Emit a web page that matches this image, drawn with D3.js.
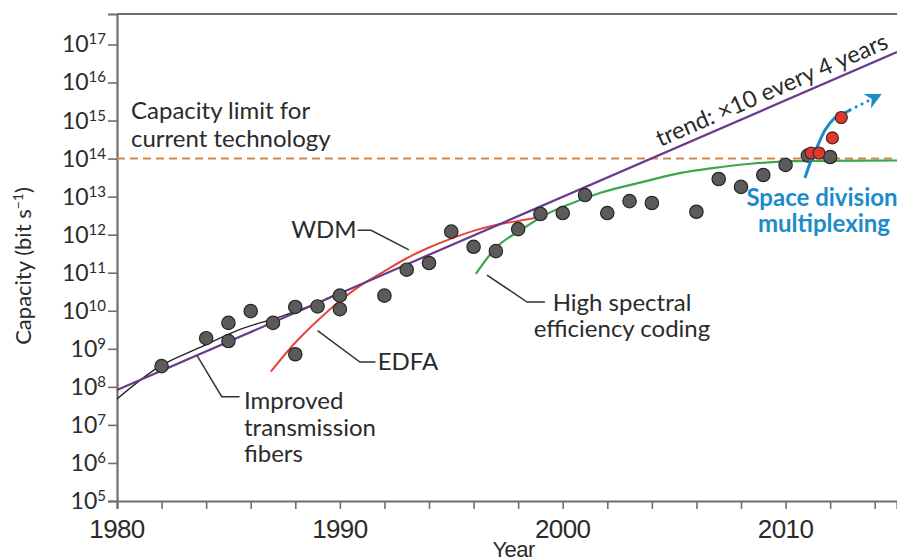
<!DOCTYPE html>
<html>
<head>
<meta charset="utf-8">
<script src="https://cdn.jsdelivr.net/npm/d3@7"></script>
<style>
    body { margin: 0; background: #fff; }
    text { font-family: Lato, "Open Sans", sans-serif; fill: #2b2b2b; }
</style>
</head>
<body>
<div id="chart"></div>
<script>
// measured system capacity points (year, bit/s)
var pointYears = [1982, 1984, 1985, 1985, 1986, 1987, 1988, 1988, 1989, 1990, 1990, 1992, 1993, 1994, 1995, 1996, 1997, 1998, 1999, 2000, 2001, 2002, 2003, 2004, 2006, 2007, 2008, 2009, 2010, 2011, 2012];
var pointValues = [3.5e8, 1.9e9, 4.8e9, 1.6e9, 9.8e9, 4.8e9, 1.26e10, 7.2e8, 1.3e10, 2.5e10, 1.1e10, 2.5e10, 1.2e11, 1.8e11, 1.2e12, 4.8e11, 3.7e11, 1.4e12, 3.5e12, 3.7e12, 1.1e13, 3.7e12, 7.6e12, 6.8e12, 4e12, 2.9e13, 1.8e13, 3.7e13, 6.8e13, 1.2e14, 1.1e14];

// space division multiplexing results (red)
var sdmYears = [2011.15, 2011.5, 2012.1, 2012.5];
var sdmValues = [1.4e14, 1.4e14, 3.5e14, 1.2e15];

// curves
var trendYears = [1980, 2015];
var trendValues = [8.3e7, 6.3e16];

var fiberYears = [1980, 1981.9, 1983.7, 1985.5, 1987.3, 1989, 1990, 1990.4];
var fiberValues = [4.8e7, 3.4e8, 1.07e9, 3.2e9, 6.9e9, 1.6e10, 3e10, 3.6e10];

var edfaYears = [1986.9, 1987.9, 1989.1, 1990, 1990.9, 1992, 1993, 1994, 1995, 1996, 1997, 1998, 1999.2];
var edfaValues = [2.5e8, 1.26e9, 6.3e9, 1.8e10, 4.5e10, 1.1e11, 2.4e11, 4.6e11, 7.9e11, 1.26e12, 1.8e12, 2.3e12, 3e12];

var codingYears = [1996.1, 1997, 1998.1, 1999.3, 2000.3, 2001.7, 2003.8, 2005.3, 2006.7, 2008.3, 2009.8, 2011.2, 2015];
var codingValues = [9.3e10, 4.5e11, 1.3e12, 3.5e12, 6.3e12, 1.26e13, 2.6e13, 4.2e13, 5.6e13, 7.2e13, 8.3e13, 8.7e13, 8.9e13];

var sdmCurveYears = [2010.87, 2011.1, 2011.41, 2011.77, 2012.22, 2012.76, 2012.9];
var sdmCurveValues = [3.1e13, 7.6e13, 2e14, 5.6e14, 1.2e15, 1.7e15, 1.9e15];
var sdmArrowYears = [2012.9, 2013.8];
var sdmArrowValues = [1.9e15, 3.5e15];

var limitValue = 1e14;

var xTicks = [1980, 1990, 2000, 2010];
var yExponents = [5, 6, 7, 8, 9, 10, 11, 12, 13, 14, 15, 16, 17];

(function () {
    var width = 897, height = 560;
    var left = 117, right = 897, top = 14, bottom = 501;

    var svg = d3.select("#chart").append("svg")
        .attr("width", width)
        .attr("height", height);

    var x = d3.scaleLinear().domain([1980, 2015]).range([left, right]);
    var y = d3.scaleLog().domain([1e5, Math.pow(10, 17.8)]).range([bottom, top]);

    function zip(xs, ys) {
        return xs.map(function (d, i) { return [d, ys[i]]; });
    }

    var line = d3.line()
        .x(function (d) { return x(d[0]); })
        .y(function (d) { return y(d[1]); });
    var smooth = d3.line()
        .x(function (d) { return x(d[0]); })
        .y(function (d) { return y(d[1]); })
        .curve(d3.curveMonotoneX);

    // frame
    svg.append("line")
        .attr("x1", left).attr("x2", right).attr("y1", top).attr("y2", top)
        .attr("stroke", "#6f6f6f").attr("stroke-width", 2.2);

    // x axis
    var xAxis = svg.append("g").attr("transform", "translate(0," + bottom + ")")
        .call(d3.axisBottom(x).tickValues(d3.range(1980, 2016, 2)).tickSize(8).tickFormat(""));
    xAxis.select(".domain").attr("stroke", "#6f6f6f").attr("stroke-width", 2.2);
    xAxis.selectAll(".tick line").attr("stroke", "#6f6f6f").attr("stroke-width", 1.6);

    svg.selectAll(".xlab").data(xTicks).enter().append("text")
        .attr("x", function (d) { return x(d); })
        .attr("y", 538)
        .attr("text-anchor", "middle")
        .style("font-family", "'Liberation Sans', Arial, sans-serif")
        .style("font-size", "26px")
        .style("letter-spacing", "-0.6px")
        .text(function (d) { return d; });

    svg.append("text")
        .attr("x", x(1997.8)).attr("y", 557)
        .attr("text-anchor", "middle")
        .style("font-family", "'Liberation Sans', Arial, sans-serif")
        .style("font-size", "22px")
        .style("letter-spacing", "-0.5px")
        .text("Year");

    // y axis
    var yAxis = svg.append("g").attr("transform", "translate(" + left + ",0)")
        .call(d3.axisLeft(y).tickValues(yExponents.map(function (e) { return Math.pow(10, e); })).tickSize(9).tickFormat(""));
    yAxis.select(".domain").attr("stroke", "#6f6f6f").attr("stroke-width", 2.2);
    yAxis.selectAll(".tick line").attr("stroke", "#6f6f6f").attr("stroke-width", 1.6);

    var ylab = svg.selectAll(".ylab").data(yExponents).enter().append("text")
        .attr("x", 106)
        .attr("y", function (e) { return y(Math.pow(10, e)) + 8; })
        .attr("text-anchor", "end")
        .style("font-size", "23px");
    ylab.append("tspan").text("10");
    ylab.append("tspan")
        .attr("dy", -8)
        .style("font-size", "15px")
        .text(function (e) { return e; });

    var ytitle = svg.append("text")
        .attr("transform", "translate(31,266) rotate(-90)")
        .attr("text-anchor", "middle")
        .style("font-size", "22px");
    ytitle.append("tspan").text("Capacity (bit s");
    ytitle.append("tspan").attr("dy", -8).style("font-size", "14px").text("\u22121");
    ytitle.append("tspan").attr("dy", 8).text(")");

    // capacity limit
    svg.append("line")
        .attr("x1", left).attr("x2", right)
        .attr("y1", y(limitValue)).attr("y2", y(limitValue))
        .attr("stroke", "#d6884a").attr("stroke-width", 2)
        .attr("stroke-dasharray", "8,5");

    svg.append("text").attr("x", 131).attr("y", 119).style("font-size", "24px").text("Capacity limit for");
    svg.append("text").attr("x", 131).attr("y", 147).style("font-size", "24px").text("current technology");

    // curves
    svg.append("path").attr("d", smooth(zip(edfaYears, edfaValues)))
        .attr("fill", "none").attr("stroke", "#e4463a").attr("stroke-width", 2);
    svg.append("path").attr("d", smooth(zip(codingYears, codingValues)))
        .attr("fill", "none").attr("stroke", "#3ca64b").attr("stroke-width", 2.2);
    svg.append("path").attr("d", smooth(zip(fiberYears, fiberValues)))
        .attr("fill", "none").attr("stroke", "#222").attr("stroke-width", 1.4);
    svg.append("path").attr("d", line(zip(trendYears, trendValues)))
        .attr("fill", "none").attr("stroke", "#6a3a8c").attr("stroke-width", 2.2);

    // trend label along the line
    var t0 = [x(trendYears[0]), y(trendValues[0])], t1 = [x(trendYears[1]), y(trendValues[1])];
    var angle = Math.atan2(t1[1] - t0[1], t1[0] - t0[0]) * 180 / Math.PI;
    var ly = 2004.5;
    var lyPos = [x(ly), t0[1] + (t1[1] - t0[1]) * (x(ly) - t0[0]) / (t1[0] - t0[0])];
    svg.append("text")
        .attr("transform", "translate(" + lyPos[0] + "," + lyPos[1] + ") rotate(" + angle + ")")
        .attr("dy", -7)
        .style("font-size", "23.5px")
        .text("trend: \u00d710 every 4 years");

    // measured points
    svg.selectAll(".pt").data(zip(pointYears, pointValues)).enter().append("circle")
        .attr("cx", function (d) { return x(d[0]); })
        .attr("cy", function (d) { return y(d[1]); })
        .attr("r", 6.7)
        .attr("fill", "#5b5b5b")
        .attr("stroke", "#262626")
        .attr("stroke-width", 1.2);

    // space division multiplexing
    svg.append("defs").append("marker")
        .attr("id", "arrow").attr("viewBox", "0 0 10 10")
        .attr("refX", 2).attr("refY", 5)
        .attr("markerWidth", 16).attr("markerHeight", 16)
        .attr("markerUnits", "userSpaceOnUse")
        .attr("orient", "auto")
        .append("path").attr("d", "M0,0 L10,5 L0,10 L3,5 Z").attr("fill", "#1b8ccb");

    svg.append("path").attr("d", smooth(zip(sdmCurveYears, sdmCurveValues)))
        .attr("fill", "none").attr("stroke", "#1b8ccb").attr("stroke-width", 3);
    svg.append("path").attr("d", line(zip(sdmArrowYears, sdmArrowValues)))
        .attr("fill", "none").attr("stroke", "#1b8ccb").attr("stroke-width", 3)
        .attr("stroke-linecap", "round").attr("stroke-dasharray", "0.1,6.5")
        .attr("marker-end", "url(#arrow)");

    svg.selectAll(".sdm").data(zip(sdmYears, sdmValues)).enter().append("circle")
        .attr("cx", function (d) { return x(d[0]); })
        .attr("cy", function (d) { return y(d[1]); })
        .attr("r", 6)
        .attr("fill", "#e2382b")
        .attr("stroke", "#3a2a2a")
        .attr("stroke-width", 1.2);

    svg.append("text").attr("x", 822).attr("y", 206).attr("text-anchor", "middle")
        .style("font-size", "24px").style("font-weight", "bold").style("fill", "#1b8ccb")
        .text("Space division");
    svg.append("text").attr("x", 824).attr("y", 232).attr("text-anchor", "middle")
        .style("font-size", "24px").style("font-weight", "bold").style("fill", "#1b8ccb")
        .text("multiplexing");

    // annotations with leader lines
    function callout(pts) {
        svg.append("path").attr("d", line(pts))
            .attr("fill", "none").attr("stroke", "#333").attr("stroke-width", 1.5);
    }

    callout([[1990.8, 1.3e12], [1991.4, 1.3e12], [1993.1, 4e11]]);
    svg.append("text").attr("x", x(1990.75)).attr("y", y(1.3e12) + 8).attr("text-anchor", "end")
        .style("font-size", "24px").text("WDM");

    callout([[1991.6, 4.5e8], [1990.9, 4.5e8], [1989, 3e9]]);
    svg.append("text").attr("x", x(1991.7)).attr("y", y(4.5e8) + 8)
        .style("font-size", "24px").text("EDFA");

    callout([[1996.6, 8.7e10], [1998.4, 1.7e10], [1999.2, 1.7e10]]);
    svg.append("text").attr("x", 622).attr("y", 311).attr("text-anchor", "middle")
        .style("font-size", "24px").text("High spectral");
    svg.append("text").attr("x", 622).attr("y", 337).attr("text-anchor", "middle")
        .style("font-size", "24px").text("efficiency coding");

    callout([[1983.6, 6.5e8], [1984.7, 5.5e7], [1985.5, 5.5e7]]);
    svg.append("text").attr("x", 244).attr("y", 409).style("font-size", "24px").text("Improved");
    svg.append("text").attr("x", 244).attr("y", 436).style("font-size", "24px").text("transmission");
    svg.append("text").attr("x", 244).attr("y", 462).style("font-size", "24px").text("fibers");
})();
</script>
</body>
</html>
